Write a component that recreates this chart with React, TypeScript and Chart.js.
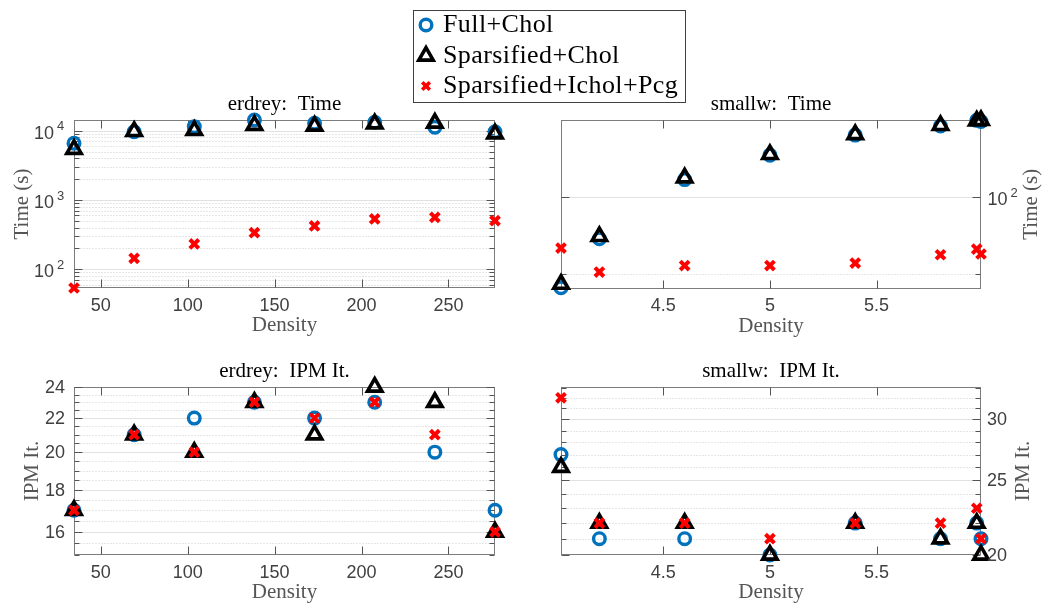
import React, { useEffect, useRef } from 'react';
import { Chart, registerables } from 'chart.js';

Chart.register(...registerables);

// ---------------- data ----------------
const seriesNames = ['Full+Chol', 'Sparsified+Chol', 'Sparsified+Ichol+Pcg'];

const erdreyDensity = [34.6, 69.2, 103.8, 138.4, 173, 207.6, 242.2, 276.8];
const erdreyTimeFull = [6580, 9670, 11430, 14260, 12790, 13220, 11200, 9670];
const erdreyTimeSparse = [5400, 9800, 10100, 11970, 11690, 12620, 12900, 9050];
const erdreyTimeIchol = [53.7, 144, 232, 337, 422, 532, 562, 502];
const erdreyItFull = [17, 21, 22, 23, 22, 23, 20, 17];
const erdreyItSparse = [17, 21, 20, 23, 21, 24, 23, 16];
const erdreyItIchol = [17, 21, 20, 23, 22, 23, 21, 16];

const smallwDensity = [4.02, 4.2, 4.6, 5.0, 5.4, 5.8, 5.97, 5.99];
const smallwTimeFull = [44, 68.5, 117, 146, 175, 190, 200, 198];
const smallwTimeSparse = [45.5, 70, 119, 147, 176, 191, 199, 200];
const smallwTimeIchol = [63, 50.7, 53.8, 53.8, 55, 59.3, 62.4, 59.7];
const smallwItFull = [27, 21, 21, 20, 22, 21, 22, 21];
const smallwItSparse = [26, 22, 22, 20, 22, 21, 22, 20];
const smallwItIchol = [32, 22, 22, 21, 22, 22, 23, 21];

// tick values
const erdreyXTicks = [50, 100, 150, 200, 250];
const smallwXTicks = [4.5, 5, 5.5];
const erdreyTimeMajor = [100, 1000, 10000];
const erdreyTimeMinor = [60, 70, 80, 90, 200, 300, 400, 500, 600, 700, 800, 900, 2000, 3000, 4000, 5000, 6000, 7000, 8000, 9000];
const smallwTimeMajor = [100];
const smallwTimeMinor = [50];
const erdreyItMajor = [16, 18, 20, 22, 24];
const erdreyItMinor = [15, 15.5, 16.5, 17, 17.5, 18.5, 19, 19.5, 20.5, 21, 21.5, 22.5, 23, 23.5];
const smallwItMajor = [20, 25, 30];
const smallwItMinor = [21, 22, 23, 24, 26, 27, 28, 29, 31, 32, 33];

// ---------------- layout / style ----------------
const W = 1047;
const H = 607;
const BLUE = '#0072BD';
const SERIF = '"Liberation Serif", "Times New Roman", serif';
const SANS = '"Liberation Sans", Arial, sans-serif';

type Panel = {
  key: string;
  area: { l: number; t: number; r: number; b: number };
  x: number[];
  full: number[];
  sparse: number[];
  ichol: number[];
  xMin: number;
  xMax: number;
  yMin: number;
  yMax: number;
  xTicks: number[];
  yMajor: number[];
  yMinor: number[];
  logLabels: boolean;
  side: 'left' | 'right';
  title: string;
  yTitle: string;
  yTitleGap: number;
};

const panels: Panel[] = [
  {
    key: 'erdreyTime', area: { l: 74, t: 120, r: 495, b: 288 },
    x: erdreyDensity, full: erdreyTimeFull, sparse: erdreyTimeSparse, ichol: erdreyTimeIchol,
    xMin: 34.6, xMax: 276.8, yMin: 53.7, yMax: 14260,
    xTicks: erdreyXTicks, yMajor: erdreyTimeMajor, yMinor: erdreyTimeMinor,
    logLabels: true, side: 'left', title: 'erdrey:  Time', yTitle: 'Time (s)', yTitleGap: 52,
  },
  {
    key: 'smallwTime', area: { l: 561, t: 120, r: 981, b: 288.5 },
    x: smallwDensity, full: smallwTimeFull, sparse: smallwTimeSparse, ichol: smallwTimeIchol,
    xMin: 4.02, xMax: 5.99, yMin: 43.7, yMax: 200.6,
    xTicks: smallwXTicks, yMajor: smallwTimeMajor, yMinor: smallwTimeMinor,
    logLabels: true, side: 'right', title: 'smallw:  Time', yTitle: 'Time (s)', yTitleGap: 50,
  },
  {
    key: 'erdreyIt', area: { l: 74, t: 387, r: 495, b: 555 },
    x: erdreyDensity, full: erdreyItFull, sparse: erdreyItSparse, ichol: erdreyItIchol,
    xMin: 34.6, xMax: 276.8, yMin: 15, yMax: 24,
    xTicks: erdreyXTicks, yMajor: erdreyItMajor, yMinor: erdreyItMinor,
    logLabels: false, side: 'left', title: 'erdrey:  IPM It.', yTitle: 'IPM It.', yTitleGap: 42,
  },
  {
    key: 'smallwIt', area: { l: 561, t: 387, r: 981, b: 555 },
    x: smallwDensity, full: smallwItFull, sparse: smallwItSparse, ichol: smallwItIchol,
    xMin: 4.02, xMax: 5.99, yMin: 20, yMax: 33.05,
    xTicks: smallwXTicks, yMajor: smallwItMajor, yMinor: smallwItMinor,
    logLabels: false, side: 'right', title: 'smallw:  IPM It.', yTitle: 'IPM It.', yTitleGap: 42,
  },
];

function makeAxesPlugin(p: Panel) {
  return {
    id: 'matlabAxes_' + p.key,
    beforeDatasetsDraw(chart: any) {
      const { ctx, chartArea: ca, scales } = chart;
      const xs = scales.x;
      const ys = scales.y;
      const L = Math.round(ca.left) + 0.5;
      const R = Math.round(ca.right) - 0.5;
      const T = Math.round(ca.top) + 0.5;
      const B = Math.round(ca.bottom) - 0.5;
      const line = (x1: number, y1: number, x2: number, y2: number) => {
        ctx.beginPath();
        ctx.moveTo(x1, y1);
        ctx.lineTo(x2, y2);
        ctx.stroke();
      };
      ctx.save();
      ctx.lineWidth = 1;
      // minor grid (dotted)
      ctx.strokeStyle = '#cdcdcd';
      ctx.setLineDash([1, 2]);
      for (const v of p.yMinor) {
        const y = Math.round(ys.getPixelForValue(v)) + 0.5;
        if (y > T + 1 && y < B - 1) line(L, y, R, y);
      }
      ctx.setLineDash([]);
      // major grid
      ctx.strokeStyle = '#e2e2e2';
      for (const v of p.yMajor) {
        const y = Math.round(ys.getPixelForValue(v)) + 0.5;
        if (y > T + 1 && y < B - 1) line(L, y, R, y);
      }
      // box
      ctx.strokeStyle = '#7c7c7c';
      ctx.strokeRect(L, T, R - L, B - T);
      // ticks
      ctx.strokeStyle = '#555555';
      for (const v of p.xTicks) {
        const x = Math.round(xs.getPixelForValue(v)) + 0.5;
        line(x, B, x, B - 8);
        line(x, T, x, T + 8);
      }
      for (const v of p.yMajor) {
        const y = Math.round(ys.getPixelForValue(v)) + 0.5;
        line(L, y, L + 8, y);
        line(R, y, R - 8, y);
      }
      for (const v of p.yMinor) {
        const y = Math.round(ys.getPixelForValue(v)) + 0.5;
        line(L, y, L + 5, y);
        line(R, y, R - 5, y);
      }
      ctx.restore();
    },
    afterDraw(chart: any) {
      const { ctx, chartArea: ca, scales } = chart;
      const xs = scales.x;
      const ys = scales.y;
      const cx = (ca.left + ca.right) / 2;
      const cy = (ca.top + ca.bottom) / 2;
      ctx.save();
      // title
      ctx.fillStyle = '#000000';
      ctx.font = '21px ' + SERIF;
      ctx.textAlign = 'center';
      ctx.textBaseline = 'alphabetic';
      ctx.fillText(p.title, cx, ca.top - 10);
      // x tick labels
      ctx.fillStyle = '#404040';
      ctx.font = '18px ' + SANS;
      ctx.textBaseline = 'middle';
      for (const v of p.xTicks) {
        ctx.fillText(String(v), xs.getPixelForValue(v), ca.bottom + 18);
      }
      // y tick labels
      for (const v of p.yMajor) {
        const y = ys.getPixelForValue(v);
        if (p.logLabels) {
          const exp = String(Math.round(Math.log10(v)));
          if (p.side === 'left') {
            ctx.font = '18px ' + SANS;
            ctx.textAlign = 'right';
            ctx.fillText('10', ca.left - 20, y + 3);
            ctx.font = '13px ' + SANS;
            ctx.textAlign = 'left';
            ctx.fillText(exp, ca.left - 17, y - 4);
          } else {
            ctx.font = '18px ' + SANS;
            ctx.textAlign = 'left';
            ctx.fillText('10', ca.right + 6.5, y + 3);
            const w = ctx.measureText('10').width;
            ctx.font = '13px ' + SANS;
            ctx.fillText(exp, ca.right + 6.5 + w + 3, y - 4);
          }
        } else {
          ctx.font = '18px ' + SANS;
          if (p.side === 'left') {
            ctx.textAlign = 'right';
            ctx.fillText(String(v), ca.left - 9, y + 1);
          } else {
            ctx.textAlign = 'left';
            ctx.fillText(String(v), ca.right + 6, y + 1);
          }
        }
      }
      // x title
      ctx.fillStyle = '#555555';
      ctx.font = '21px ' + SERIF;
      ctx.textAlign = 'center';
      ctx.textBaseline = 'alphabetic';
      ctx.fillText('Density', cx, ca.bottom + 43);
      // y title
      const tx = p.side === 'left' ? ca.left - p.yTitleGap : ca.right + p.yTitleGap;
      ctx.translate(tx, cy);
      ctx.rotate(-Math.PI / 2);
      ctx.textBaseline = 'middle';
      ctx.fillText(p.yTitle, 0, 0);
      ctx.restore();
    },
  };
}

function PanelChart({ panel }: { panel: Panel }) {
  const ref = useRef<HTMLCanvasElement | null>(null);
  useEffect(() => {
    if (!ref.current) return;
    const p = panel;
    const pts = (ys: number[]) => p.x.map((xv, i) => ({ x: xv, y: ys[i] }));
    const chart = new Chart(ref.current, {
      type: 'scatter',
      data: {
        datasets: [
          {
            label: seriesNames[0],
            data: pts(p.full),
            pointStyle: 'circle',
            pointRadius: 5.8,
            pointBorderWidth: 3.4,
            pointBorderColor: BLUE,
            pointBackgroundColor: 'rgba(0,0,0,0)',
            showLine: false,
            clip: false,
            order: 3,
          },
          {
            label: seriesNames[1],
            data: pts(p.sparse),
            pointStyle: 'triangle',
            pointRadius: 8.3,
            pointBorderWidth: 3.6,
            pointBorderColor: '#000000',
            pointBackgroundColor: 'rgba(0,0,0,0)',
            showLine: false,
            clip: false,
            order: 2,
          },
          {
            label: seriesNames[2],
            data: pts(p.ichol),
            pointStyle: 'crossRot',
            pointRadius: 6.3,
            pointBorderWidth: 4,
            pointBorderColor: '#ff0000',
            pointBackgroundColor: '#ff0000',
            showLine: false,
            clip: false,
            order: 1,
          },
        ],
      } as any,
      options: {
        responsive: false,
        animation: false,
        events: [],
        layout: {
          padding: {
            left: p.area.l,
            top: p.area.t,
            right: W - p.area.r,
            bottom: H - p.area.b,
          },
        },
        plugins: {
          legend: { display: false },
          tooltip: { enabled: false },
          title: { display: false },
        },
        scales: {
          x: { type: 'linear', min: p.xMin, max: p.xMax, display: false },
          y: { type: 'logarithmic', min: p.yMin, max: p.yMax, display: false },
        },
      } as any,
      plugins: [makeAxesPlugin(p)],
    });
    return () => chart.destroy();
  }, [panel]);
  return (
    <canvas
      ref={ref}
      width={W}
      height={H}
      style={{ position: 'absolute', left: 0, top: 0, width: W, height: H }}
    />
  );
}

function LegendMarker({ i }: { i: number }) {
  if (i === 0) {
    return (
      <svg width={24} height={24} viewBox="-12 -12 24 24">
        <circle cx={0} cy={0} r={5.8} fill="none" stroke={BLUE} strokeWidth={3.4} />
      </svg>
    );
  }
  if (i === 1) {
    return (
      <svg width={24} height={24} viewBox="-12 -12 24 24">
        <polygon points="0,-8.3 7.2,4.15 -7.2,4.15" fill="none" stroke="#000" strokeWidth={3.6} />
      </svg>
    );
  }
  return (
    <svg width={24} height={24} viewBox="-12 -12 24 24">
      <line x1={-3.8} y1={-3.8} x2={3.8} y2={3.8} stroke="#f00" strokeWidth={3.6} />
      <line x1={-3.8} y1={3.8} x2={3.8} y2={-3.8} stroke="#f00" strokeWidth={3.6} />
    </svg>
  );
}

function Legend() {
  const rowCenters = [25, 56, 86];
  return (
    <>
      <div
        style={{
          position: 'absolute',
          left: 413,
          top: 10,
          width: 271,
          height: 91,
          border: '1px solid #404040',
          background: '#ffffff',
        }}
      />
      {seriesNames.map((name, i) => (
        <React.Fragment key={name}>
          <div style={{ position: 'absolute', left: 414, top: rowCenters[i] - 12, width: 24, height: 24 }}>
            <LegendMarker i={i} />
          </div>
          <div
            style={{
              position: 'absolute',
              left: 443,
              top: rowCenters[i] - 15 - 1,
              height: 30,
              lineHeight: '30px',
              fontFamily: SERIF,
              fontSize: 26,
              letterSpacing: '0.4px',
              color: '#000',
              whiteSpace: 'nowrap',
            }}
          >
            {name}
          </div>
        </React.Fragment>
      ))}
    </>
  );
}

export default function App() {
  return (
    <div
      style={{
        position: 'absolute',
        left: 0,
        top: 0,
        width: W,
        height: H,
        background: '#ffffff',
        overflow: 'hidden',
      }}
    >
      {panels.map((p) => (
        <PanelChart key={p.key} panel={p} />
      ))}
      <Legend />
    </div>
  );
}
